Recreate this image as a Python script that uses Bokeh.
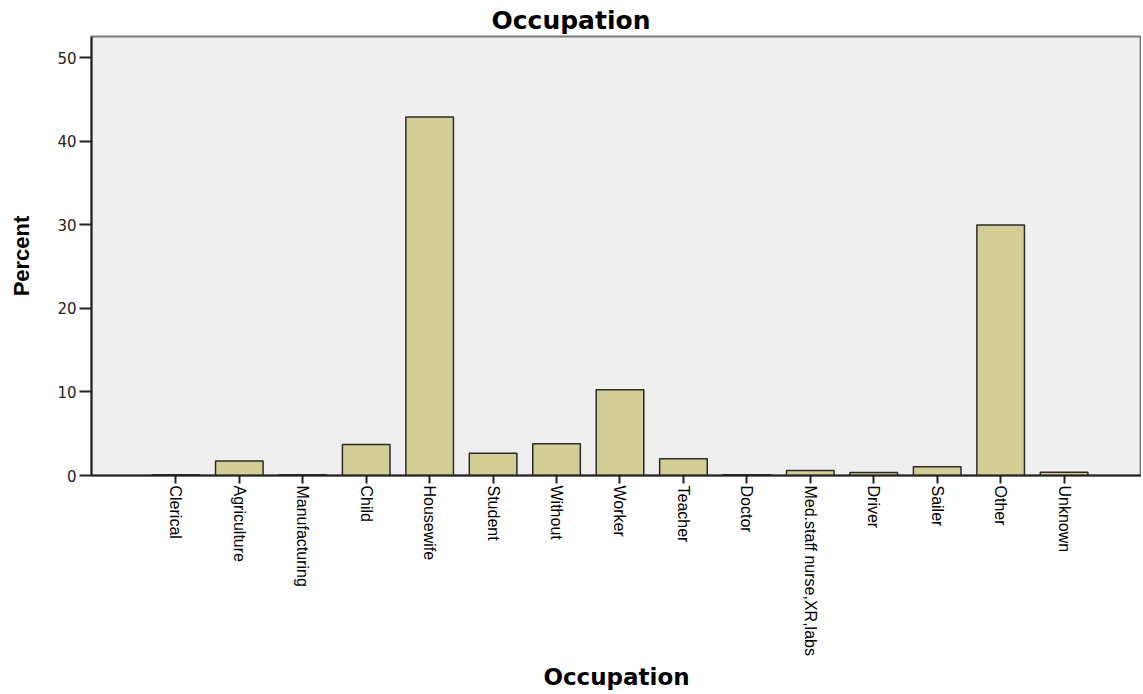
import math
from bokeh.plotting import figure
from bokeh.models import Range1d, FixedTicker, ColumnDataSource, Title
from bokeh.embed import file_html
from bokeh.resources import INLINE

categories = ["Clerical", "Agriculture", "Manufacturing", "Child", "Housewife",
              "Student", "Without", "Worker", "Teacher", "Doctor",
              "Med.staff nurse,XR,labs", "Driver", "Sailer", "Other", "Unknown"]
percent = [0.1, 1.75, 0.1, 3.7, 42.9, 2.65, 3.8, 10.25, 2.0, 0.1,
           0.6, 0.36, 1.05, 30.0, 0.38]
y_ticks = [0, 10, 20, 30, 40, 50]

positions = list(range(len(categories)))
src = ColumnDataSource(dict(x=positions, top=percent, name=categories))

p = figure(width=1141, height=693, output_backend="svg", toolbar_location=None,
           x_range=Range1d(-1.33, 15.22), y_range=Range1d(0, 52.55),
           min_border_left=91, min_border_right=0, min_border_top=36,
           min_border_bottom=218)

p.vbar(x="x", top="top", bottom=0, width=0.75, source=src,
       fill_color="#D3CE96", line_color="#2b2b2b", line_width=1.5)

p.background_fill_color = "#EFEFEF"
p.border_fill_color = "white"
p.outline_line_color = "#7a7a7a"
p.outline_line_width = 2
p.xgrid.visible = False
p.ygrid.visible = False

p.title = Title(text="Occupation", align="left", offset=400, standoff=4,
                text_font="DejaVu Sans", text_font_size="25px",
                text_font_style="bold", text_color="black")

p.xaxis.ticker = FixedTicker(ticks=positions)
p.xaxis.major_label_overrides = {i: c for i, c in enumerate(categories)}
p.xaxis.major_label_orientation = -math.pi / 2
p.xaxis.major_label_text_font = "Liberation Sans"
p.xaxis.major_label_text_font_size = "16px"
p.xaxis.major_label_text_color = "black"
p.xaxis.major_label_standoff = 2
p.xaxis.major_tick_out = 8
p.xaxis.major_tick_in = 0
p.xaxis.minor_tick_line_color = None
p.xaxis.axis_line_color = "#222222"
p.xaxis.axis_line_width = 2
p.xaxis.major_tick_line_width = 2
p.xaxis.major_tick_line_color = "#222222"
p.xaxis.axis_label = "Occupation"
p.xaxis.axis_label_text_font = "DejaVu Sans"
p.xaxis.axis_label_text_font_size = "23px"
p.xaxis.axis_label_text_font_style = "bold"
p.xaxis.axis_label_text_color = "black"
p.xaxis.axis_label_standoff = 5

p.yaxis.ticker = FixedTicker(ticks=y_ticks)
p.yaxis.major_label_text_font = "DejaVu Sans"
p.yaxis.major_label_text_font_size = "15px"
p.yaxis.major_label_text_color = "#222222"
p.yaxis.major_tick_out = 12
p.yaxis.major_tick_in = 0
p.yaxis.major_label_standoff = 3
p.yaxis.minor_tick_line_color = None
p.yaxis.axis_line_color = "#222222"
p.yaxis.axis_line_width = 2
p.yaxis.major_tick_line_width = 2
p.yaxis.major_tick_line_color = "#222222"
p.yaxis.axis_label = "Percent"
p.yaxis.axis_label_text_font = "Liberation Sans"
p.yaxis.axis_label_text_font_size = "22px"
p.yaxis.axis_label_text_font_style = "bold"
p.yaxis.axis_label_text_color = "black"
p.yaxis.axis_label_standoff = 20

open("out.html", "w").write(file_html(p, INLINE))
